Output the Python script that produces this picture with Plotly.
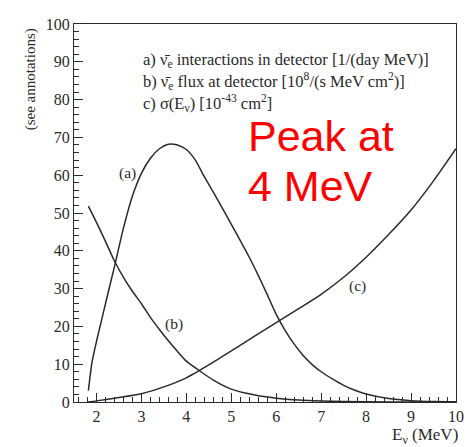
import plotly.graph_objects as go

# (a) anti-neutrino interactions in detector
xa = [1.82, 1.9, 2.0, 2.1, 2.2, 2.4, 2.6, 2.8, 3.0, 3.2, 3.4, 3.6, 3.8, 4.0, 4.2, 4.4, 4.6, 4.8,
      5.0, 5.2, 5.4, 5.6, 5.8, 6.0, 6.2, 6.4, 6.6, 6.8, 7.0, 7.25, 7.5, 7.75, 8.0, 8.5, 9.0, 9.5, 10.0]
ya = [3.0, 10.5, 16.0, 21.0, 26.0, 35.8, 46.0, 54.5, 60.5, 64.5, 67.0, 68.2, 68.0, 66.8, 64.0, 59.6, 55.5, 51.3,
      47.0, 42.7, 38.3, 33.5, 28.4, 23.2, 18.9, 15.3, 12.3, 9.9, 8.0, 6.1, 4.4, 3.1, 2.1, 0.9, 0.35, 0.12, 0.05]

# (b) anti-neutrino flux at detector
xb = [1.82, 2.0, 2.2, 2.4, 2.6, 2.8, 3.0, 3.2, 3.4, 3.6, 3.8, 4.0, 4.3, 4.6, 5.0, 5.5, 6.0, 6.5, 7.0, 8.0, 9.0, 10.0]
yb = [51.8, 47.5, 42.5, 37.3, 33.0, 29.3, 26.0, 22.4, 19.2, 16.2, 13.4, 10.8, 8.2, 5.8, 3.4, 1.9, 1.0, 0.5, 0.25, 0.05, 0.01, 0.0]

# (c) cross section
xc = [1.8, 2.0, 2.5, 3.0, 3.5, 4.0, 4.5, 5.0, 5.5, 6.0, 6.5, 7.0, 7.5, 8.0, 8.5, 9.0, 9.5, 10.0]
yc = [0.0, 0.3, 1.2, 2.2, 4.0, 6.4, 9.8, 13.5, 17.3, 21.0, 24.7, 28.5, 33.0, 38.3, 44.3, 50.8, 58.5, 67.0]

xticks = [2, 3, 4, 5, 6, 7, 8, 9, 10]
yticks = [0, 10, 20, 30, 40, 50, 60, 70, 80, 90, 100]

serif = "Liberation Serif, Times New Roman, serif"
ink = "#2a2a2a"

# The page body has an 8px margin; size the figure so the plot box lands at
# x 74..460, y 16..402 in the 472x447 window.
OFF = 8
W, H = 472 - OFF, 447 - OFF
L, R, T, B = 74 - OFF, 12, 16 - OFF, 45
PW, PH = W - L - R, H - T - B


def px_x(px):
    return (px - OFF - L) / PW


def px_y(py):
    return (H - B - (py - OFF)) / PH


fig = go.Figure()
for xs, ys in [(xa, ya), (xb, yb), (xc, yc)]:
    fig.add_trace(go.Scatter(x=xs, y=ys, mode="lines", line=dict(color=ink, width=1.5, shape="spline", smoothing=0.6),
                             showlegend=False, hoverinfo="skip"))

fig.update_layout(
    width=W, height=H,
    margin=dict(l=L, r=R, t=T, b=B),
    paper_bgcolor="white", plot_bgcolor="white",
    font=dict(family=serif, size=16, color=ink),
)
axis_common = dict(showgrid=False, zeroline=False, showline=True, linecolor=ink, linewidth=1, mirror=True,
                   ticks="inside", ticklen=9, tickcolor=ink, tickwidth=1, ticklabeloverflow="allow",
                   tickfont=dict(family=serif, size=16, color=ink))
fig.update_xaxes(range=[1.5, 10], tickmode="array", tickvals=xticks, ticktext=[str(t) for t in xticks],
                 minor=dict(dtick=0.2, tick0=0, ticks="inside", ticklen=5, tickcolor=ink), **axis_common)
fig.update_yaxes(range=[0, 100], tickmode="array", tickvals=yticks, ticktext=[str(t) for t in yticks],
                 minor=dict(dtick=2, tick0=0, ticks="inside", ticklen=5, tickcolor=ink), **axis_common)

ann = []
legend_lines = [
    ("a) ν̄<sub>e</sub> interactions in detector [1/(day MeV)]", 90.6),
    ("b) ν̄<sub>e</sub> flux at detector [10<sup>8</sup>/(s MeV cm<sup>2</sup>)]", 84.8),
    ("c) σ(E<sub>ν</sub>) [10<sup>-43</sup> cm<sup>2</sup>]", 79.0),
]
for t, yy in legend_lines:
    ann.append(dict(x=2.98, y=yy, xref="x", yref="y", text=t, showarrow=False, xanchor="left", yanchor="middle",
                    font=dict(family=serif, size=16.5, color=ink)))
for t, xx, yy in [("(a)", 2.69, 60.6), ("(b)", 3.72, 20.7), ("(c)", 7.8, 30.8)]:
    ann.append(dict(x=xx, y=yy, xref="x", yref="y", text=t, showarrow=False, xanchor="center", yanchor="middle",
                    font=dict(family=serif, size=15.5, color=ink)))
for t, yy in [("Peak at", 70.3), ("4 MeV", 57.2)]:
    ann.append(dict(x=5.33, y=yy, xref="x", yref="y", text=t, showarrow=False, xanchor="left", yanchor="middle",
                    font=dict(family="Liberation Sans, Arial, sans-serif", size=43, color="#ff0000")))
ann.append(dict(x=px_x(30), y=px_y(72), xref="paper", yref="paper", text="(see annotations)", showarrow=False,
                textangle=-90, xanchor="center", yanchor="middle",
                font=dict(family=serif, size=15, color=ink)))
ann.append(dict(x=px_x(464), y=px_y(437), xref="paper", yref="paper", text="E<sub>ν</sub> (MeV)", showarrow=False,
                xanchor="right", yanchor="middle", font=dict(family=serif, size=17, color=ink)))
fig.update_layout(annotations=ann)

fig.write_html("out.html")
